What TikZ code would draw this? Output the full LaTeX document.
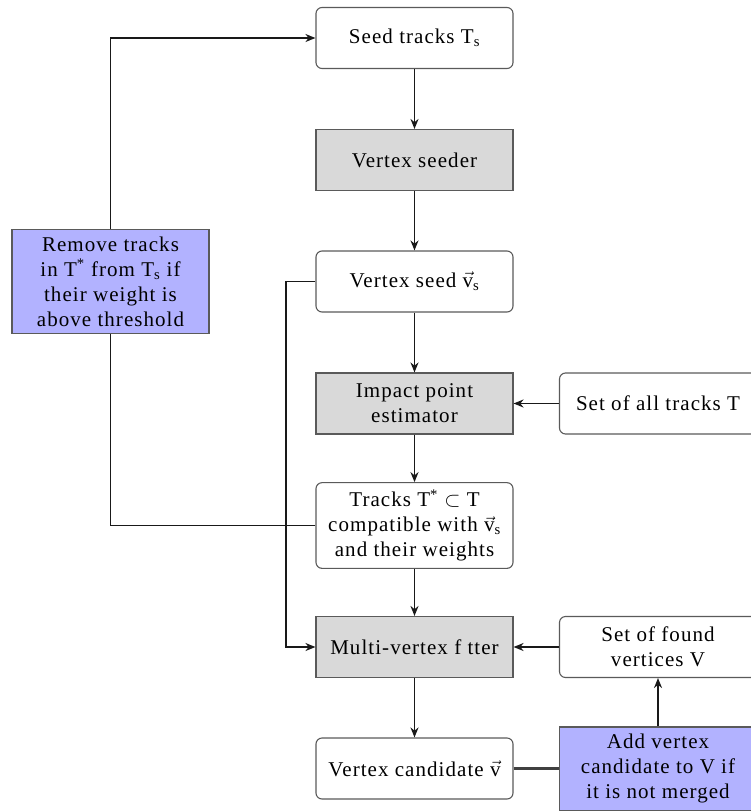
\documentclass[tikz,border=0pt]{standalone}
\usepackage{fontspec}
\setmainfont[LetterSpace=5]{Liberation Serif}
\usetikzlibrary{arrows.meta}
\definecolor{boxgray}{RGB}{217,217,217}
\definecolor{boxblue}{RGB}{178,178,255}
\definecolor{edgegray}{RGB}{90,90,90}
\newcommand{\vv}{$\vec{\mbox{v}}$}
\begin{document}
\begin{tikzpicture}[x=1pt,y=-1pt,
  base/.style={draw=edgegray, line width=1.1pt, minimum width=197pt, minimum height=61pt,
    align=center, font=\fontsize{21}{25}\selectfont, inner xsep=2pt, inner ysep=7pt},
  roundbox/.style={base, rounded corners=6pt, fill=white},
  procbox/.style={base, fill=boxgray},
  actbox/.style={base, fill=boxblue},
  conn/.style={line width=1.8pt, draw=black!90},
  arr/.style={conn, -{Stealth[length=10pt,width=8pt]}}
]
\useasboundingbox (0,0) rectangle (751,811);
\node[roundbox] (seed) at (414.5,38) {Seed tracks T\textsubscript{s}};
\node[procbox] (seeder) at (414.5,160) {Vertex seeder};
\node[roundbox] (vseed) at (414.5,281.5) {Vertex seed \vv\textsubscript{s}};
\node[procbox] (ipe) at (414.5,403.5) {Impact point\\estimator};
\node[roundbox] (alltr) at (658,403.5) {Set of all tracks T};
\node[roundbox] (tracks) at (414.5,525.5) {Tracks T\textsuperscript{*} $\subset$ T\\compatible with \vv\textsubscript{s}\\and their weights};
\node[procbox] (multi) at (414.5,647) {Multi-vertex f tter};
\node[roundbox] (found) at (658,647) {Set of found\\vertices V};
\node[roundbox] (cand) at (414.5,768.5) {Vertex candidate \vv};
\node[actbox] (add) at (658,768.5) {Add vertex\\candidate to V if\\it is not merged};
\node[actbox] (remove) at (110.5,281.5) {Remove tracks\\in T\textsuperscript{*} from T\textsubscript{s} if\\their weight is\\above threshold};
\coordinate (j) at (286,0);

\draw[arr] (seed) -- (seeder);
\draw[arr] (seeder) -- (vseed);
\draw[arr] (vseed) -- (ipe);
\draw[arr] (ipe) -- (tracks);
\draw[arr] (tracks) -- (multi);
\draw[arr] (multi) -- (cand);
\draw[arr] (alltr) -- (ipe);
\draw[arr] (found) -- (multi);
\draw[arr] (add) -- (found);
\draw[line width=2.6pt, draw=black!75] (cand) -- (add);
\draw[conn] (tracks.west) -| (remove.south);
\draw[arr] (remove.north) |- (seed.west);
\draw[arr] (vseed.west) -- (vseed.west -| j) |- (multi.west);
\end{tikzpicture}
\end{document}
